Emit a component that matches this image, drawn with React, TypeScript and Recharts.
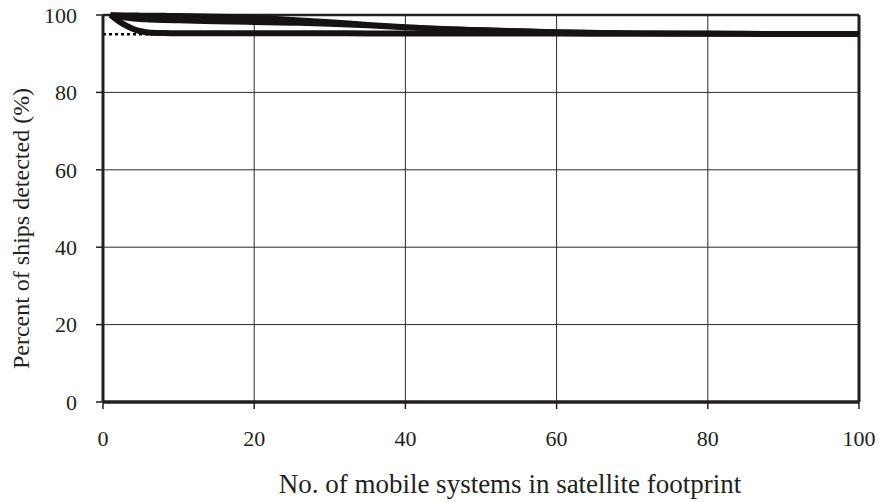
import React from "react";
import {
  LineChart,
  Line,
  XAxis,
  YAxis,
  CartesianGrid,
  ReferenceLine,
} from "recharts";

const xValues = [1, 2, 3, 4, 5, 6, 8, 10, 15, 20, 25, 30, 35, 40, 50, 60, 70, 80, 90, 100];
const seriesSlow = [100, 99.97, 99.95, 99.93, 99.9, 99.88, 99.84, 99.8, 99.6, 99.3, 98.8, 98.2, 97.5, 96.9, 96.1, 95.6, 95.3, 95.2, 95.15, 95.1];
const seriesMid = [100, 99.6, 99.3, 99.05, 98.9, 98.8, 98.65, 98.55, 98.35, 98.15, 97.95, 97.7, 97.3, 96.8, 96.1, 95.55, 95.3, 95.2, 95.1, 95.05];
const seriesFast = [100, 98.5, 97.3, 96.4, 95.8, 95.5, 95.35, 95.3, 95.3, 95.3, 95.3, 95.3, 95.25, 95.25, 95.2, 95.2, 95.15, 95.15, 95.1, 95.1];
const thresholdValue = 95;
const xTicks = [0, 20, 40, 60, 80, 100];
const yTicks = [0, 20, 40, 60, 80, 100];
const xTitle = "No. of mobile systems in satellite footprint";
const yTitle = "Percent of ships detected (%)";

const data = xValues.map((x, i) => ({
  x,
  slow: seriesSlow[i],
  mid: seriesMid[i],
  fast: seriesFast[i],
}));

const FONT = "'Liberation Serif', 'Times New Roman', serif";
const INK = "#231f20";
const LINE = "#161213";

const YTitle = (props: any) => {
  const vb = props.viewBox || {};
  const cx = 29;
  const cy = (vb.y ?? 15) + (vb.height ?? 387) / 2 + 20;
  return (
    <text
      x={cx}
      y={cy}
      transform={`rotate(-90, ${cx}, ${cy})`}
      textAnchor="middle"
      fontFamily={FONT}
      fontSize={24}
      fill={INK}
    >
      {yTitle}
    </text>
  );
};

export default function App() {
  return (
    <div style={{ position: "absolute", left: 0, top: 0, background: "#fff" }}>
      <LineChart
        width={880}
        height={502}
        data={data}
        margin={{ top: 15, right: 21, bottom: 0, left: 0 }}
      >
        <CartesianGrid stroke="#2b2b2b" strokeWidth={1} />
        <XAxis
          dataKey="x"
          type="number"
          domain={[0, 100]}
          ticks={xTicks}
          height={100}
          axisLine={{ stroke: INK, strokeWidth: 3.5 }}
          tickLine={{ stroke: INK, strokeWidth: 1.5 }}
          tickSize={7}
          tickMargin={21}
          tick={{ fill: INK, fontSize: 22, fontFamily: FONT }}
          label={{
            value: xTitle,
            position: "insideBottom",
            offset: 9,
            dx: 29,
            style: { fill: INK, fontSize: 27, fontFamily: FONT },
          }}
        />
        <YAxis
          type="number"
          domain={[0, 100]}
          ticks={yTicks}
          width={103}
          axisLine={{ stroke: INK, strokeWidth: 3 }}
          tickLine={{ stroke: INK, strokeWidth: 1.5 }}
          tickSize={7}
          tickMargin={19}
          tick={{ fill: INK, fontSize: 22, fontFamily: FONT }}
          label={<YTitle />}
        />
        <ReferenceLine y={100} stroke={INK} strokeWidth={2.5} />
        <ReferenceLine x={100} stroke={INK} strokeWidth={3} />
        <ReferenceLine
          y={thresholdValue}
          stroke="#000"
          strokeWidth={2.5}
          strokeDasharray="3 3"
        />
        <Line
          type="monotone"
          dataKey="slow"
          stroke={LINE}
          strokeWidth={5.5}
          dot={false}
          isAnimationActive={false}
        />
        <Line
          type="monotone"
          dataKey="mid"
          stroke={LINE}
          strokeWidth={5.5}
          dot={false}
          isAnimationActive={false}
        />
        <Line
          type="monotone"
          dataKey="fast"
          stroke={LINE}
          strokeWidth={6}
          dot={false}
          isAnimationActive={false}
        />
      </LineChart>
    </div>
  );
}
